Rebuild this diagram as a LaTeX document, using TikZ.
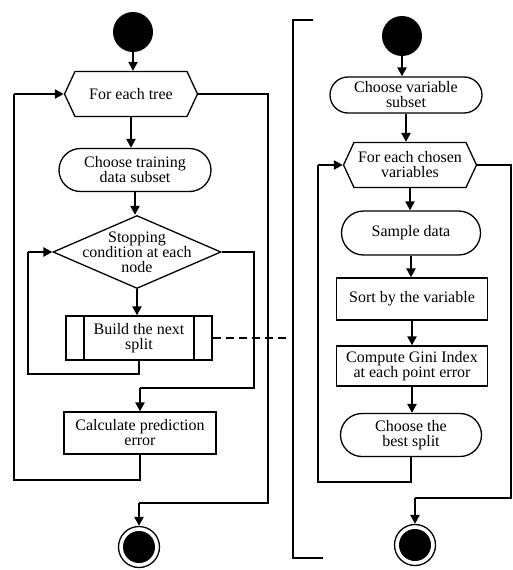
\documentclass[tikz,border=0pt]{standalone}
\usepackage{fontspec}
\setmainfont{Liberation Serif}
\usetikzlibrary{shapes.geometric,shapes.misc,shapes.symbols,arrows.meta}

\begin{document}
\begin{tikzpicture}[x=1pt,y=-1pt,font=\fontsize{16}{15}\selectfont]%
  \tikzstyle{arr}=[line width=2.2pt,-{Triangle[length=9pt,width=9pt]}]
  \tikzstyle{lin}=[line width=1.3pt]
  \tikzstyle{startn}=[circle,fill=black,minimum size=40pt,inner sep=0]
  \tikzstyle{endn}=[circle,draw,line width=1.3pt,minimum size=41pt,inner sep=0,
    path picture={\fill (path picture bounding box.center) circle (16pt);}]
  \tikzstyle{hexn}=[signal,signal to=west and east,signal pointer angle=130,draw,line width=1.3pt,
    minimum width=133pt,minimum height=45pt,align=center,inner sep=1pt]
  \tikzstyle{roundn}=[rounded rectangle,draw,line width=1.3pt,align=center,inner sep=1pt]
  \tikzstyle{boxn}=[rectangle,draw,line width=1.3pt,align=center,inner sep=1pt]
  \tikzstyle{procn}=[boxn,path picture={
    \draw[line width=1.3pt] ([xshift=18pt]path picture bounding box.north west) -- ([xshift=18pt]path picture bounding box.south west);
    \draw[line width=1.3pt] ([xshift=-18pt]path picture bounding box.north east) -- ([xshift=-18pt]path picture bounding box.south east);}]
  \tikzstyle{diamn}=[diamond,aspect=2.3,draw,line width=1.3pt,align=center,inner sep=-10pt,
    minimum width=168pt,minimum height=73pt]
  \useasboundingbox (0,0) rectangle (513,570);
  \node(s1)[startn] at (133,32) {};
  \node(h1)[hexn] at (131,94) {For each tree};
  \node(r1)[roundn,minimum width=154pt,minimum height=43pt] at (135,170) {Choose training\\data subset};
  \node(d1)[diamn] at (137,252) {Stopping\\condition at each\\node};
  \node(p1)[procn,minimum width=146pt,minimum height=44pt] at (139,338) {Build the next\\split};
  \node(b1)[boxn,minimum width=152pt,minimum height=42pt] at (140,433) {Calculate prediction\\error};
  \node(e1)[endn] at (139,547) {};
  \node(s2)[startn] at (402,36) {};
  \node(r2)[roundn,minimum width=154pt,minimum height=36pt] at (406,95) {Choose variable\\subset};
  \node(h2)[hexn] at (410,165) {For each chosen\\variables};
  \node(r3)[roundn,minimum width=141pt,minimum height=44pt] at (411,233) {Sample data};
  \node(b2)[boxn,minimum width=151pt,minimum height=42pt] at (412,299) {Sort by the variable};
  \node(b3)[boxn,minimum width=151pt,minimum height=40pt] at (412,366) {Compute Gini Index\\at each point error};
  \node(r4)[roundn,minimum width=143pt,minimum height=43pt] at (411,435) {Choose the\\best split};
  \node(e2)[endn] at (415,545) {};
  \coordinate(c1) at (28,374);
  \coordinate(c2) at (254,388);
  \coordinate(c3) at (14,480);
  \coordinate(c4) at (268,503);
  \coordinate(c5) at (288,338);
  \coordinate(c6) at (318,482);
  \coordinate(c7) at (511,498);
  \draw[arr] (s1.south) -- (s1.south |- h1.north);
  \draw[arr] (h1.south) -- (h1.south |- r1.north);
  \draw[arr] (r1.south) -- (r1.south |- d1.north);
  \draw[arr] (d1.south) -- (d1.south |- p1.north);
  \draw[lin] (p1.south) |- (c1) -- (c1 |- d1.west);
  \draw[arr] (c1 |- d1.west) -- (d1.west);
  \draw[lin] (d1.east) -| (c2) -- (c2 -| b1.north);
  \draw[arr] (c2 -| b1.north) -- (b1.north);
  \draw[lin] (b1.south) |- (c3) -- (c3 |- h1.west);
  \draw[arr] (c3 |- h1.west) -- (h1.west);
  \draw[lin] (h1.east) -| (c4) -- (c4 -| e1.north);
  \draw[arr] (c4 -| e1.north) -- (e1.north);
  \draw[lin,dash pattern=on 8pt off 5pt] (p1.east) -- (p1.east -| c5);
  \draw[arr] (s2.south) -- (s2.south |- r2.north);
  \draw[arr] (r2.south) -- (r2.south |- h2.north);
  \draw[arr] (h2.south) -- (h2.south |- r3.north);
  \draw[arr] (r3.south) -- (r3.south |- b2.north);
  \draw[arr] (b2.south) -- (b2.south |- b3.north);
  \draw[arr] (b3.south) -- (b3.south |- r4.north);
  \draw[lin] (r4.south) |- (c6) -- (c6 |- h2.west);
  \draw[arr] (c6 |- h2.west) -- (h2.west);
  \draw[lin] (h2.east) -| (c7) -- (c7 -| e2.north);
  \draw[arr] (c7 -| e2.north) -- (e2.north);
  \draw[lin] (313,20) -- (293,20) -- (293,558) -- (323,558);
\end{tikzpicture}
\end{document}
